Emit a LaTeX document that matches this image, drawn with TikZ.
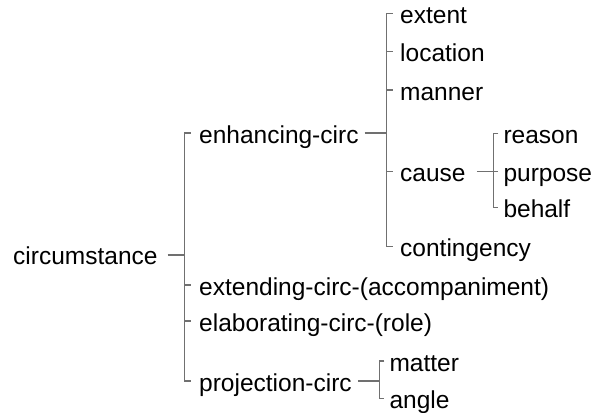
\documentclass[tikz,border=0pt]{standalone}
\usepackage{fontspec}
\setmainfont{Liberation Sans}
\definecolor{linegray}{RGB}{112,112,112}
\begin{document}
\begin{tikzpicture}[x=1pt,y=-1pt,
  lbl/.style={inner sep=0pt, anchor=base west, font=\fontsize{24.5}{27}\selectfont},
  wire/.style={draw=linegray, line width=1.5pt}]
\useasboundingbox (0,0) rectangle (593,412);

% ---- root
\coordinate (j-circ) at (184.5,255);
\node[lbl] (circ) at (13,264) {circumstance};

% ---- first level: bracket at x = 184.5
\coordinate (t-enh)  at (184.5,133);
\coordinate (t-ext)  at (184.5,285);
\coordinate (t-ela)  at (184.5,321);
\coordinate (t-proj) at (184.5,381);
\node[lbl] (enh)  at ([xshift=14.5pt,yshift=-10pt]t-enh)  {enhancing-circ};
\node[lbl] (ext)  at ([xshift=14.5pt,yshift=-10pt]t-ext)  {extending-circ-(accompaniment)};
\node[lbl] (ela)  at ([xshift=14.5pt,yshift=-10pt]t-ela)  {elaborating-circ-(role)};
\node[lbl] (proj) at ([xshift=14.5pt,yshift=-10pt]t-proj) {projection-circ};

% ---- enhancing-circ: bracket at x = 386.7
\coordinate (j-enh)  at (386.7,133);
\coordinate (t-extent) at (386.7,13.3);
\coordinate (t-loc)    at (386.7,51.7);
\coordinate (t-man)    at (386.7,90);
\coordinate (t-cause)  at (386.7,171.7);
\coordinate (t-cont)   at (386.7,246.7);
\node[lbl] (extent) at ([xshift=13.3pt,yshift=-10pt]t-extent) {extent};
\node[lbl] (loc)    at ([xshift=13.3pt,yshift=-10pt]t-loc)    {location};
\node[lbl] (man)    at ([xshift=13.3pt,yshift=-10pt]t-man)    {manner};
\node[lbl] (cause)  at ([xshift=13.3pt,yshift=-10pt]t-cause)  {cause};
\node[lbl] (cont)   at ([xshift=13.3pt,yshift=-10pt]t-cont)   {contingency};

% ---- cause: bracket at x = 493.3
\coordinate (j-cause) at (493.3,171.7);
\coordinate (t-rea) at (493.3,133.3);
\coordinate (t-pur) at (493.3,171.7);
\coordinate (t-beh) at (493.3,207.5);
\node[lbl] (rea) at ([xshift=10pt,yshift=-10pt]t-rea) {reason};
\node[lbl] (pur) at ([xshift=10pt,yshift=-10pt]t-pur) {purpose};
\node[lbl] (beh) at ([xshift=10pt,yshift=-10pt]t-beh) {behalf};

% ---- projection-circ: bracket at x = 379.3
\coordinate (j-proj) at (379.3,381);
\coordinate (t-mat) at (379.3,361);
\coordinate (t-ang) at (379.3,398.3);
\node[lbl] (mat) at ([xshift=10pt,yshift=-10pt]t-mat) {matter};
\node[lbl] (ang) at ([xshift=10pt,yshift=-10pt]t-ang) {angle};

% ---- connectors
% root
\draw[wire] ([xshift=10pt]circ.base east |- j-circ) -- (j-circ);
\draw[wire] ([xshift=-8.5pt]enh.base west |- t-enh) -- (t-enh) -- (t-proj)
            -- ([xshift=-8.5pt]proj.base west |- t-proj);
\draw[wire] (t-ext) -- ([xshift=-8.5pt]ext.base west |- t-ext);
\draw[wire] (t-ela) -- ([xshift=-8.5pt]ela.base west |- t-ela);

% enhancing-circ
\draw[wire] ([xshift=6pt]enh.base east |- j-enh) -- (j-enh);
\draw[wire] ([xshift=-7.3pt]extent.base west |- t-extent) -- (t-extent) -- (t-cont)
            -- ([xshift=-7.3pt]cont.base west |- t-cont);
\draw[wire] (t-loc)   -- ([xshift=-7.3pt]loc.base west |- t-loc);
\draw[wire] (t-man)   -- ([xshift=-7.3pt]man.base west |- t-man);
\draw[wire] (t-cause) -- ([xshift=-7.3pt]cause.base west |- t-cause);

% cause
\draw[wire] ([xshift=11pt]cause.base east |- j-cause) -- (j-cause);
\draw[wire] ([xshift=-5pt]rea.base west |- t-rea) -- (t-rea) -- (t-beh)
            -- ([xshift=-5pt]beh.base west |- t-beh);
\draw[wire] (t-pur) -- ([xshift=-5pt]pur.base west |- t-pur);

% projection-circ
\draw[wire] ([xshift=6pt]proj.base east |- j-proj) -- (j-proj);
\draw[wire] ([xshift=-5pt]mat.base west |- t-mat) -- (t-mat) -- (t-ang)
            -- ([xshift=-5pt]ang.base west |- t-ang);
\end{tikzpicture}
\end{document}
